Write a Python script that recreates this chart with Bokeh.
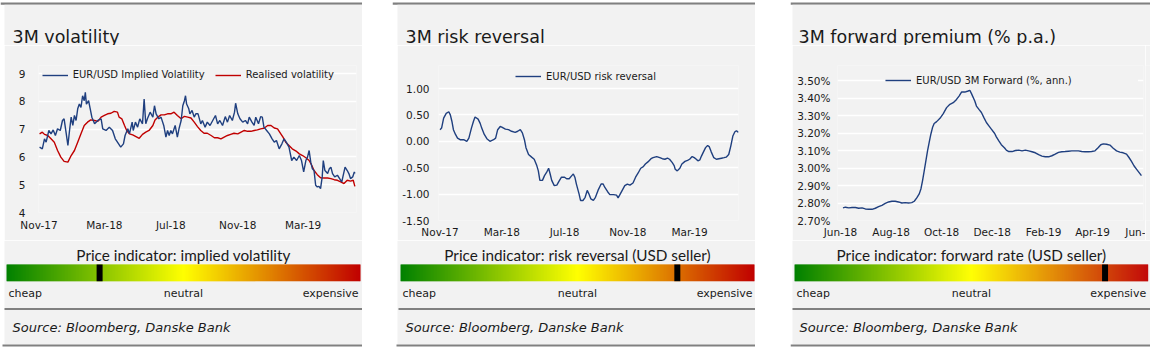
import pandas as pd
from bokeh.plotting import figure
from bokeh.layouts import row, column
from bokeh.models import (ColumnDataSource, Range1d, FixedTicker, DatetimeTickFormatter,
                          PrintfTickFormatter, Legend, LegendItem, Label, Spacer)
from bokeh.core.properties import value
from bokeh.embed import file_html
from bokeh.resources import INLINE

# ---------------- data ----------------
vol_start = "2017-11-01"
implied_days = [1, 6, 10, 13, 18, 22, 26, 30, 34, 39, 43, 46, 50, 53, 56, 59, 62, 65, 68, 71,
                74, 77, 80, 83, 85, 87, 91, 94, 97, 102, 108, 114, 117, 123, 129, 135, 140, 144, 150, 155,
                158, 163, 166, 171, 173, 177, 181, 185, 190, 193, 196, 199, 204, 209, 212, 215, 220, 224, 229, 233,
                236, 239, 242, 245, 250, 254, 257, 261, 264, 267, 269, 271, 275, 277, 281, 285, 288, 292, 297, 300,
                305, 309, 314, 319, 324, 328, 332, 337, 342, 346, 350, 355, 359, 361, 365, 369, 374, 379, 383, 386,
                391, 395, 398, 403, 407, 410, 413, 418, 423, 428, 432, 436, 441, 446, 450, 454, 459, 464, 468, 473,
                478, 482, 486, 490, 493, 496, 499, 502, 505, 508, 511, 514, 517, 520, 522, 525, 530, 533, 536, 539,
                543, 548, 552, 556, 558, 562, 566, 569, 572, 576, 579, 580]
implied_vol = [6.35, 6.29, 6.65, 6.53, 6.95, 6.83, 6.97, 6.77, 7.01, 6.95, 7.31, 7.37, 6.83, 6.41, 6.95, 7.43, 7.13, 7.49, 7.31, 7.73,
               7.90, 7.78, 8.20, 8.02, 8.32, 7.90, 8.02, 7.73, 7.43, 7.19, 7.31, 7.37, 7.01, 6.95, 7.07, 6.95, 6.65, 6.53, 6.35, 6.47,
               6.77, 7.01, 6.83, 7.25, 6.95, 7.25, 7.07, 7.37, 7.19, 8.08, 7.19, 7.37, 7.61, 7.43, 7.84, 7.55, 7.37, 7.43, 7.13, 6.71,
               6.95, 6.77, 6.95, 6.83, 7.13, 6.71, 7.01, 7.31, 7.84, 8.02, 8.20, 7.90, 7.73, 7.55, 7.67, 7.43, 7.55, 7.55, 7.19, 7.31,
               7.07, 7.25, 7.13, 7.31, 7.49, 7.19, 7.31, 7.13, 7.45, 7.25, 7.49, 7.31, 7.61, 7.93, 7.55, 7.37, 7.25, 7.31, 7.19, 7.43,
               7.25, 7.13, 7.43, 7.19, 7.45, 7.43, 7.07, 6.95, 6.83, 6.65, 6.53, 6.59, 6.29, 6.47, 6.65, 6.53, 6.35, 5.87, 5.99, 5.87,
               6.05, 5.87, 5.46, 5.87, 5.99, 6.23, 5.81, 5.57, 5.51, 4.98, 4.92, 4.94, 4.86, 5.28, 5.87, 5.51, 5.40, 5.57, 5.63, 5.40,
               5.28, 5.34, 5.22, 5.10, 5.28, 5.63, 5.51, 5.40, 5.22, 5.28, 5.46, 5.40]
realised_days = [1, 6, 10, 16, 22, 28, 34, 40, 46, 53, 59, 65, 71, 77, 83, 89, 95, 102, 108, 114,
                 120, 126, 132, 138, 144, 147, 152, 157, 161, 166, 172, 178, 184, 190, 196, 202, 209, 213, 218, 224,
                 230, 236, 242, 248, 254, 261, 267, 273, 279, 285, 291, 297, 303, 309, 316, 322, 328, 334, 340, 346,
                 352, 358, 365, 371, 377, 383, 389, 395, 401, 407, 413, 420, 426, 432, 438, 444, 448, 453, 459, 465,
                 472, 478, 484, 490, 496, 501, 505, 511, 517, 524, 530, 536, 542, 548, 554, 560, 566, 572, 577, 580]
realised_vol = [6.83, 6.89, 6.81, 6.77, 6.65, 6.53, 6.23, 5.99, 5.84, 5.81, 6.05, 6.23, 6.53, 6.83, 7.13, 7.25, 7.33, 7.31, 7.28, 7.43,
                7.49, 7.55, 7.57, 7.64, 7.61, 7.43, 7.37, 7.13, 6.95, 6.83, 6.79, 6.73, 6.67, 6.81, 6.89, 6.95, 7.13, 7.33, 7.43, 7.51,
                7.51, 7.55, 7.55, 7.61, 7.49, 7.37, 7.46, 7.43, 7.40, 7.25, 7.09, 6.95, 6.85, 6.85, 6.77, 6.69, 6.69, 6.65, 6.71, 6.77,
                6.81, 6.85, 6.83, 6.89, 6.95, 6.92, 6.92, 6.95, 6.97, 7.01, 7.03, 7.13, 7.13, 7.04, 7.01, 6.83, 6.71, 6.53, 6.41, 6.29,
                6.21, 6.11, 6.05, 5.97, 5.87, 5.69, 5.51, 5.36, 5.25, 5.24, 5.24, 5.22, 5.18, 5.16, 5.10, 5.04, 5.16, 5.13, 5.16, 4.94]

rr_start = "2017-11-01"
rr_days = [0, 3, 7, 12, 17, 20, 23, 26, 30, 34, 39, 46, 52, 56, 61, 65, 68, 74, 78, 81,
           86, 91, 97, 104, 108, 112, 117, 120, 127, 133, 139, 146, 151, 156, 160, 164, 167, 172, 178, 183,
           188, 191, 194, 199, 203, 207, 211, 214, 217, 222, 227, 231, 236, 242, 246, 251, 256, 259, 262, 265,
           270, 273, 278, 282, 286, 289, 293, 298, 302, 307, 313, 317, 320, 326, 330, 337, 343, 346, 349, 354,
           359, 364, 369, 375, 380, 385, 390, 395, 399, 404, 410, 414, 421, 427, 432, 437, 442, 446, 451, 455,
           457, 461, 466, 470, 476, 481, 485, 490, 494, 498, 501, 505, 508, 511, 516, 520, 523, 527, 532, 537,
           542, 547, 552, 556, 561, 565, 569, 573, 576, 580]
risk_reversal = [0.22, 0.25, 0.44, 0.53, 0.56, 0.50, 0.38, 0.22, 0.13, 0.06, 0.03, 0.03, 0.00, 0.06, 0.25, 0.38, 0.46, 0.42, 0.34, 0.25,
                 0.13, 0.05, 0.00, 0.03, 0.06, 0.22, 0.28, 0.27, 0.23, 0.22, 0.19, 0.17, 0.19, 0.22, 0.16, 0.03, -0.12, -0.25, -0.30, -0.34,
                 -0.46, -0.56, -0.74, -0.74, -0.65, -0.59, -0.51, -0.62, -0.74, -0.84, -0.83, -0.76, -0.68, -0.68, -0.71, -0.71, -0.65, -0.62, -0.68, -0.81,
                 -0.99, -1.12, -1.12, -1.06, -0.93, -0.99, -1.09, -1.12, -1.06, -0.93, -0.81, -0.81, -0.87, -0.96, -1.01, -1.01, -1.02, -1.07, -1.02, -0.93,
                 -0.84, -0.81, -0.83, -0.79, -0.68, -0.60, -0.51, -0.48, -0.43, -0.39, -0.33, -0.31, -0.29, -0.31, -0.33, -0.34, -0.32, -0.34, -0.40, -0.46,
                 -0.53, -0.56, -0.51, -0.43, -0.38, -0.36, -0.34, -0.29, -0.31, -0.34, -0.37, -0.35, -0.28, -0.22, -0.12, -0.08, -0.10, -0.20, -0.31, -0.34,
                 -0.33, -0.32, -0.31, -0.30, -0.25, -0.09, 0.10, 0.18, 0.20, 0.17]

fwd_start = "2018-06-01"
fwd_days = [3, 6, 10, 14, 18, 22, 26, 30, 34, 38, 42, 46, 50, 54, 58, 62, 66, 70, 74, 78,
            82, 86, 89, 92, 95, 97, 99, 101, 103, 105, 107, 109, 111, 113, 116, 120, 124, 128, 132, 136,
            140, 143, 146, 150, 154, 156, 158, 162, 164, 167, 170, 173, 176, 179, 182, 186, 188, 191, 194, 198,
            200, 203, 207, 211, 215, 219, 223, 227, 231, 235, 239, 243, 247, 251, 255, 259, 263, 267, 271, 275,
            279, 283, 287, 291, 295, 299, 303, 307, 311, 314, 317, 321, 325, 329, 333, 337, 341, 345, 348, 351,
            354, 357, 360, 363]
fwd_premium = [2.772, 2.776, 2.772, 2.774, 2.774, 2.770, 2.772, 2.766, 2.764, 2.764, 2.770, 2.779, 2.787, 2.798, 2.806, 2.810, 2.810, 2.806, 2.800, 2.802,
               2.800, 2.802, 2.810, 2.829, 2.852, 2.880, 2.928, 2.984, 3.041, 3.098, 3.146, 3.193, 3.231, 3.254, 3.265, 3.284, 3.311, 3.345, 3.364, 3.373,
               3.392, 3.411, 3.434, 3.434, 3.440, 3.444, 3.425, 3.383, 3.354, 3.335, 3.317, 3.288, 3.260, 3.241, 3.222, 3.197, 3.178, 3.155, 3.133, 3.114,
               3.102, 3.094, 3.094, 3.100, 3.102, 3.098, 3.102, 3.098, 3.093, 3.087, 3.076, 3.068, 3.064, 3.064, 3.070, 3.079, 3.089, 3.093, 3.094, 3.096,
               3.098, 3.098, 3.098, 3.094, 3.093, 3.093, 3.094, 3.098, 3.117, 3.133, 3.138, 3.136, 3.131, 3.113, 3.098, 3.091, 3.087, 3.079, 3.060, 3.038,
               3.013, 2.994, 2.975, 2.956]

vol_xticks = ["2017-11-01", "2018-03-01", "2018-07-01", "2018-11-01", "2019-03-01"]
fwd_xticks = ["2018-06-01", "2018-08-01", "2018-10-01", "2018-12-01", "2019-02-01", "2019-04-01", "2019-06-01"]
fwd_last_tick_label = "Jun-"   # the reference shows the last label cut off at the panel edge
vol_yticks = [4, 5, 6, 7, 8, 9]
rr_yticks = [-1.5, -1.0, -0.5, 0.0, 0.5, 1.0]
fwd_yticks = [2.7, 2.8, 2.9, 3.0, 3.1, 3.2, 3.3, 3.4, 3.5]

titles = ["3M volatility", "3M risk reversal", "3M forward premium (% p.a.)"]
series_labels = ["EUR/USD Implied Volatility", "Realised volatility", "EUR/USD risk reversal",
                 "EUR/USD 3M Forward (%, ann.)"]
indicator_titles = ["Price indicator: implied volatility",
                    "Price indicator: risk reversal (USD seller)",
                    "Price indicator: forward rate (USD seller)"]
indicator_pos = [0.263, 0.782, 0.878]
scale_labels = ["cheap", "neutral", "expensive"]
source_text = "Source: Bloomberg, Danske Bank"

# ---------------- style ----------------
BG = "#f2f2f2"
BAR = "#808080"
BLUE = "#1f3f7f"
RED = "#c00000"
FONT = "DejaVu Sans"
IFONT = "Lato"
TXT = "#1a1a1a"


def ms(s):
    return pd.Timestamp(s).timestamp() * 1000.0


def day_ms(start, d):
    return ms(start) + d * 86400000.0


def dates(start, days):
    return (pd.Timestamp(start) + pd.to_timedelta(days, unit="D")).to_numpy()


def chart(w, h, bl, br, bt, bb, xr, yr, yticks, yfmt, xticks, ystand, xstand):
    p = figure(width=w, height=h, x_axis_type="datetime", x_range=Range1d(*xr), y_range=Range1d(*yr),
               output_backend="svg", toolbar_location=None, title=None,
               min_border_left=bl, min_border_right=br, min_border_top=bt, min_border_bottom=bb)
    p.background_fill_color = BG
    p.border_fill_color = BG
    p.outline_line_color = None
    p.xgrid.grid_line_color = None
    yt = FixedTicker(ticks=yticks)
    p.yaxis.ticker = yt
    p.ygrid.ticker = yt
    p.ygrid.grid_line_color = "white"
    p.ygrid.grid_line_width = 1.3
    p.yaxis.formatter = PrintfTickFormatter(format=yfmt)
    p.xaxis.ticker = FixedTicker(ticks=[ms(t) for t in xticks])
    p.xaxis.formatter = DatetimeTickFormatter(days="%b-%y", months="%b-%y", years="%b-%y")
    for ax in (p.xaxis[0], p.yaxis[0]):
        ax.axis_line_color = None
        ax.major_tick_line_color = None
        ax.minor_tick_line_color = None
        ax.major_tick_out = 0
        ax.major_tick_in = 0
        ax.minor_tick_out = 0
        ax.major_label_text_font = FONT
        ax.major_label_text_font_size = "10.5px"
        ax.major_label_text_color = TXT
    p.yaxis.major_label_standoff = ystand
    p.xaxis.major_label_standoff = xstand
    return p


def make_legend(items, loc, label_width=20):
    lg = Legend(items=items, orientation="horizontal", location=loc, glyph_width=26, glyph_height=12,
                label_height=12, label_width=label_width, label_standoff=5, spacing=10, padding=0, margin=0,
                background_fill_color=BG, background_fill_alpha=1.0, border_line_color=None,
                label_text_font=FONT, label_text_font_size="10px", label_text_color=TXT)
    return lg


def decor(W, H, fill="white"):
    p = figure(width=W, height=H, x_range=Range1d(0, W), y_range=Range1d(0, H),
               x_axis_location=None, y_axis_location=None, min_border=0,
               output_backend="svg", toolbar_location=None, title=None)
    p.outline_line_color = None
    p.background_fill_color = fill
    p.border_fill_color = fill
    p.grid.visible = False
    return p


def grad_color(t):
    if t < 0.5:
        a = t / 0.5
        c0, c1 = (0, 128, 0), (255, 255, 0)
    else:
        a = (t - 0.5) / 0.5
        c0, c1 = (255, 255, 0), (192, 0, 0)
    return "#%02x%02x%02x" % tuple(int(round(c0[i] + (c1[i] - c0[i]) * a)) for i in range(3))


def panel(cfg, chart_fig, idx):
    W = cfg["W"]
    # top strip
    TH = 45
    top = decor(W, TH)
    top.quad(left=0, right=W, top=TH - 2, bottom=TH - 4.3, color=BAR, line_color=None)
    top.quad(left=cfg["inset"], right=W, top=TH - 4.3, bottom=0, color=BG, line_color=None)
    top.add_layout(Label(x=cfg["title_x"], y=TH - 36, text=titles[idx], text_font=FONT,
                         text_font_size="17.5px", text_color=TXT, text_baseline="alphabetic",
                         text_align="left"))
    # bottom strip
    H = 114

    def Y(y):
        return H - y

    bot = decor(W, H)
    bot.quad(left=cfg["inset"], right=W, top=Y(0), bottom=Y(104), color=BG, line_color=None)
    bot.quad(left=cfg["sep_from"], right=W, top=Y(67.5), bottom=Y(69.6), color=BAR, line_color=None)
    bot.quad(left=cfg["bl_from"], right=W, top=Y(104), bottom=Y(106), color=BAR, line_color=None)
    g0, g1 = cfg["grad"]
    gw = g1 - g0
    n = int(round(gw))
    lefts = [g0 + gw * i / n for i in range(n)]
    rights = [g0 + gw * min(i + 1.6, n) / n for i in range(n)]
    cols = [grad_color((i + 0.5) / n) for i in range(n)]
    bot.quad(left=lefts, right=rights, top=Y(24), bottom=Y(40.7), color=cols, line_color=None)
    mx = g0 + gw * indicator_pos[idx]
    bot.quad(left=mx - 3, right=mx + 3, top=Y(24), bottom=Y(40.7), color="black", line_color=None)
    gc = (g0 + g1) / 2
    bot.add_layout(Label(x=gc, y=Y(14), text=indicator_titles[idx], text_font=IFONT, text_font_size="15.3px",
                         text_color=TXT, text_align="center", text_baseline="middle"))
    bot.add_layout(Label(x=g0 + 2, y=Y(52.7), text=scale_labels[0], text_font=FONT, text_font_size="11px",
                         text_color=TXT, text_align="left", text_baseline="middle"))
    bot.add_layout(Label(x=gc, y=Y(52.7), text=scale_labels[1], text_font=FONT, text_font_size="11px",
                         text_color=TXT, text_align="center", text_baseline="middle"))
    bot.add_layout(Label(x=g1 - 2, y=Y(52.7), text=scale_labels[2], text_font=FONT, text_font_size="11px",
                         text_color=TXT, text_align="right", text_baseline="middle"))
    bot.add_layout(Label(x=cfg["src_x"], y=Y(86.7), text=source_text, text_font=FONT, text_font_size="13px",
                         text_font_style="italic", text_color=TXT, text_align="left", text_baseline="middle"))
    parts = [Spacer(width=cfg["inset"], height=195), chart_fig]
    if cfg.get("filler", 0):
        parts.append(decor(cfg["filler"], 195, fill=BG))
    mid = row(*parts)
    return column(top, mid, bot)


# ---------------- chart 1: volatility ----------------
# frame spans canvas y 65..212; y range extended above 9 so the legend sits inside the frame
p1 = chart(358, 195, 34, 6, 20, 28, (day_ms(vol_start, -1), day_ms(vol_start, 583)), (4, 4 + 147 / 27.8),
           vol_yticks, "%d", vol_xticks, 13, 6)
s_imp = ColumnDataSource(dict(x=dates(vol_start, implied_days), y=implied_vol))
s_rea = ColumnDataSource(dict(x=dates(vol_start, realised_days), y=realised_vol))
r_rea = p1.line("x", "y", source=s_rea, line_color=RED, line_width=1.4)
r_imp = p1.line("x", "y", source=s_imp, line_color=BLUE, line_width=1.4)
p1.add_layout(make_legend([LegendItem(label=value(series_labels[0]), renderers=[r_imp]),
                           LegendItem(label=value(series_labels[1]), renderers=[r_rea])], (3.7, 131.3)))

# ---------------- chart 2: risk reversal ----------------
p2 = chart(358, 195, 41, 17, 20, 20, (day_ms(rr_start, -3), day_ms(rr_start, 580)), (-1.5, -1.5 + 155 / 52.8),
           rr_yticks, "%.2f", vol_xticks, 9, 5)
s_rr = ColumnDataSource(dict(x=dates(rr_start, rr_days), y=risk_reversal))
r_rr = p2.line("x", "y", source=s_rr, line_color=BLUE, line_width=1.4)
p2.add_layout(make_legend([LegendItem(label=value(series_labels[2]), renderers=[r_rr])], (77, 138)))

# ---------------- chart 3: forward premium ----------------
p3 = chart(353, 195, 45, 2, 20, 20, (day_ms(fwd_start, -3.6), day_ms(fwd_start, 365.5)), (2.7, 2.7 + 155 / 175.0),
           fwd_yticks, "%.2f%%", fwd_xticks, 7, 5)
p3.xaxis.major_label_overrides = {ms(fwd_xticks[-1]): fwd_last_tick_label}
s_fwd = ColumnDataSource(dict(x=dates(fwd_start, fwd_days), y=fwd_premium))
r_fwd = p3.line("x", "y", source=s_fwd, line_color=BLUE, line_width=1.4)
p3.add_layout(make_legend([LegendItem(label=value(series_labels[3]), renderers=[r_fwd])], (48, 134),
                          label_width=222))

cfg1 = dict(W=362, inset=4, title_x=12, grad=(6, 360), src_x=12, sep_from=4, bl_from=2)
cfg2 = dict(W=363, inset=5, title_x=13, grad=(8, 362), src_x=13, sep_from=6, bl_from=4)
cfg3 = dict(W=360, inset=2, title_x=8, grad=(4, 357.7), src_x=9, sep_from=2, bl_from=0, filler=5)

layout = row(panel(cfg1, p1, 0), Spacer(width=30, height=354),
             panel(cfg2, p2, 1), Spacer(width=35, height=354),
             panel(cfg3, p3, 2), Spacer(width=15, height=354))

open("out.html", "w").write(file_html(layout, INLINE))
